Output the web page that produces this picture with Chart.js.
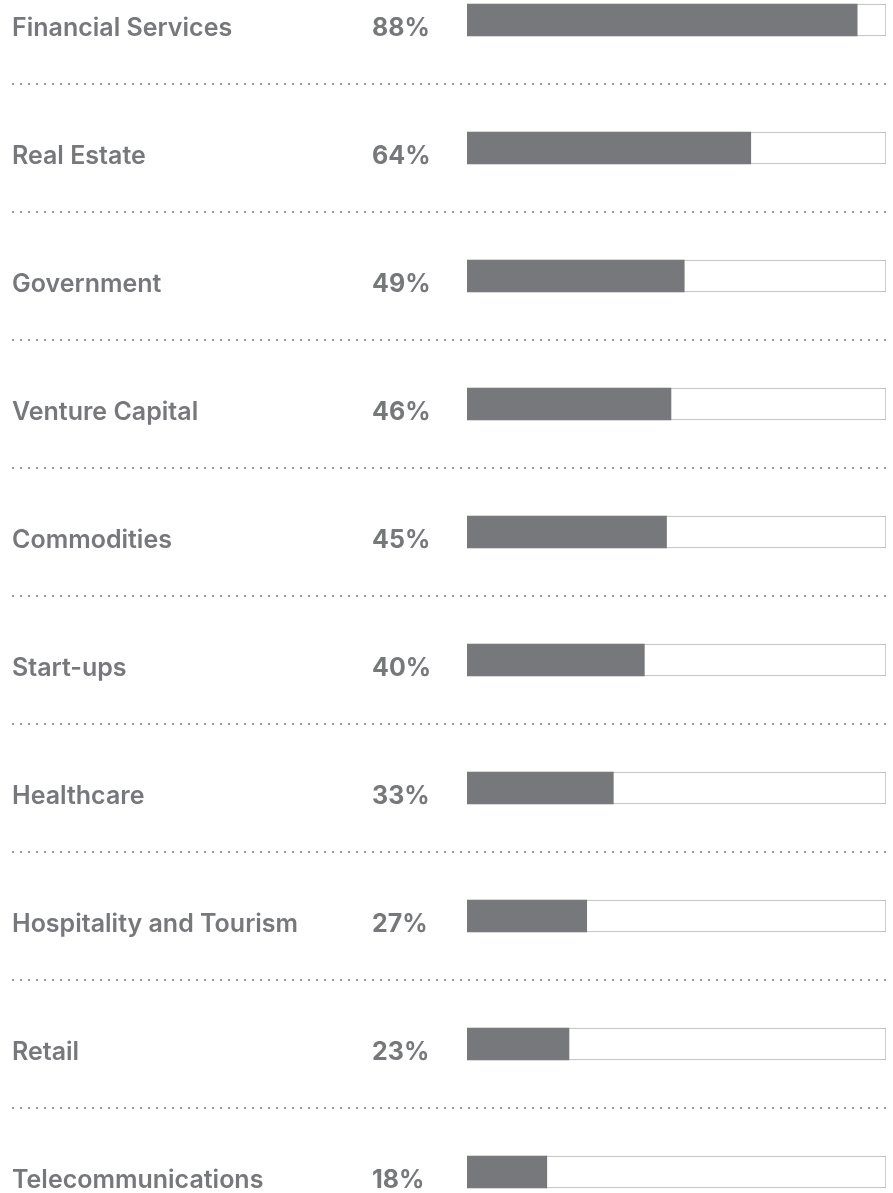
<!DOCTYPE html>
<html>
<head>
<meta charset="utf-8">
<script src="https://cdn.jsdelivr.net/npm/chart.js@4"></script>
<style>
  html, body { margin: 0; padding: 0; background: #ffffff; overflow: hidden; }
  /* the rows are 128px tall; the first and last rows are cut off by the window */
  #wrap { position: absolute; left: 0; top: -44px; width: 893px; height: 1280px; }
</style>
</head>
<body>
<div id="wrap"><canvas id="sectorChart"></canvas></div>
<script>
// ============================================
// Data
// ============================================
const sectors = [
  "Financial Services",
  "Real Estate",
  "Government",
  "Venture Capital",
  "Commodities",
  "Start-ups",
  "Healthcare",
  "Hospitality and Tourism",
  "Retail",
  "Telecommunications",
];
const shares = [88, 64, 49, 46, 45, 40, 33, 27, 23, 18];

// end of the white track (the bars are not drawn on a 0-100 scale)
const scaleMax = 94.5;

const barColor = "#77787b";
const textColor = "#77787b";

// ============================================
// Row text + dotted separators
// ============================================
const rowTextPlugin = {
  id: "rowText",
  afterDraw(chart) {
    const ctx = chart.ctx;
    const yScale = chart.scales.y;
    ctx.save();

    // dotted lines between rows
    ctx.strokeStyle = "#9b9b9b";
    ctx.lineWidth = 2;
    ctx.setLineDash([2, 6]);
    for (let i = 0; i < sectors.length - 1; i++) {
      const y =
        Math.round((yScale.getPixelForValue(i) + yScale.getPixelForValue(i + 1)) / 2);
      ctx.beginPath();
      ctx.moveTo(12, y);
      ctx.lineTo(891, y);
      ctx.stroke();
    }
    ctx.setLineDash([]);

    // sector name and percentage
    ctx.fillStyle = textColor;
    ctx.textBaseline = "alphabetic";
    ctx.textAlign = "left";
    sectors.forEach((name, i) => {
      const cy = yScale.getPixelForValue(i);
      ctx.font = "600 25px Inter";
      ctx.fillText(name, 12, cy + 16);
      ctx.font = "700 25px Inter";
      ctx.fillText(shares[i] + "%", 372, cy + 16);
    });

    ctx.restore();
  },
};

// ============================================
// Chart
// ============================================
const ctx = document.getElementById("sectorChart").getContext("2d");
new Chart(ctx, {
  type: "bar",
  data: {
    labels: sectors,
    datasets: [
      {
        label: "Share",
        data: shares,
        backgroundColor: barColor,
        borderWidth: 0,
        barThickness: 32,
        grouped: false,
        order: 1, // drawn on top of the track
      },
      {
        label: "Track",
        data: sectors.map(() => scaleMax),
        backgroundColor: "#ffffff",
        borderColor: "#b3b3b3",
        borderWidth: 1,
        borderSkipped: false,
        barThickness: 32,
        grouped: false,
        order: 2,
      },
    ],
  },
  options: {
    indexAxis: "y",
    responsive: true,
    maintainAspectRatio: false,
    animation: false,
    layout: { padding: { left: 467, right: 7, top: 0, bottom: 0 } },
    plugins: {
      legend: { display: false },
      tooltip: { enabled: false },
    },
    scales: {
      x: { display: false, min: 0, max: scaleMax },
      y: { display: false },
    },
  },
  plugins: [rowTextPlugin],
});
</script>
</body>
</html>
